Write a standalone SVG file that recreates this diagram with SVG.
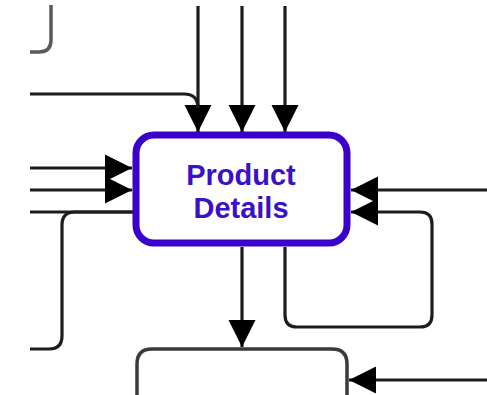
<svg xmlns="http://www.w3.org/2000/svg" width="487" height="395" viewBox="0 0 487 395">
  <defs>
    <style>
      .edge { fill: none; stroke: #1c1c1c; stroke-width: 3.2; stroke-linejoin: round; }
      .box { fill: #ffffff; stroke: #3a3a3a; stroke-width: 3.5; }
      .main { fill: #ffffff; stroke: #3a00cc; stroke-width: 7; }
      .label { font-family: "Liberation Sans", Arial, sans-serif; font-weight: bold; font-size: 29px; fill: #3a10c8; text-anchor: middle; }
    </style>
    <marker id="arrow" viewBox="0 0 10 10" refX="10" refY="5" markerUnits="userSpaceOnUse" markerWidth="27" markerHeight="29" orient="auto">
      <path d="M0,0 L10,5 L0,10 Z" fill="#000000"/>
    </marker>
  </defs>

  <!-- neighbouring boxes, partly outside the view -->
  <g id="node-upper-left">
    <path class="box" style="stroke:#5a5a5a;fill:none" d="M51,5 V40 Q51,52 39,52 H30"/>
  </g>
  <g id="node-below">
    <path class="box" d="M137,400 V364 Q137,349 152,349 H332 Q347,349 347,364 V400"/>
  </g>

  <!-- connectors -->
  <g id="connectors">
    <path class="edge" d="M198,6 V132" marker-end="url(#arrow)"/>
    <path class="edge" d="M242,6 V132" marker-end="url(#arrow)"/>
    <path class="edge" d="M285,6 V132" marker-end="url(#arrow)"/>
    <path class="edge" d="M30,94 H184 Q198,94 198,108"/>
    <path class="edge" d="M30,168 H132" marker-end="url(#arrow)"/>
    <path class="edge" d="M30,190 H132" marker-end="url(#arrow)"/>
    <path class="edge" d="M30,212 H133"/>
    <path class="edge" d="M30,349 H49 Q62,349 62,336 V225 Q62,212 75,212 H133"/>
    <path class="edge" d="M487,190 H351" marker-end="url(#arrow)"/>
    <path class="edge" d="M285,247 V315 Q285,327 297,327 H420 Q432,327 432,315 V224 Q432,212 420,212 H351" marker-end="url(#arrow)"/>
    <path class="edge" d="M242,247 V347" marker-end="url(#arrow)"/>
    <path class="edge" d="M487,380 H349" marker-end="url(#arrow)"/>
  </g>

  <g id="node-product-details">
    <rect class="main" x="136" y="135" width="211" height="108" rx="18" ry="18"/>
    <text class="label" x="241" y="185">Product</text>
    <text class="label" x="241" y="218">Details</text>
  </g>
</svg>
